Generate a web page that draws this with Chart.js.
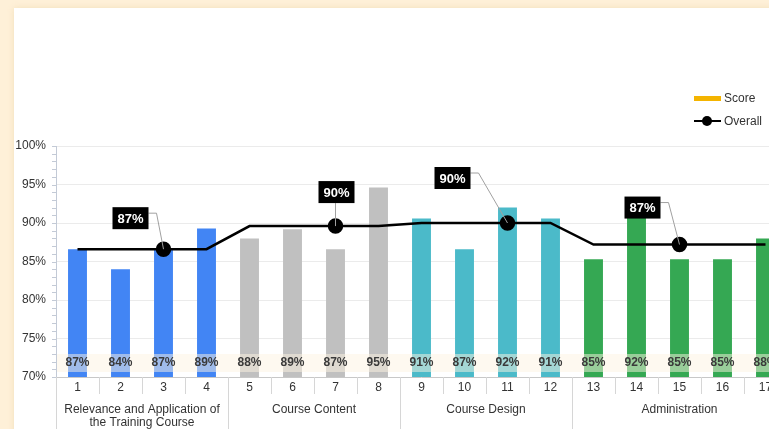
<!DOCTYPE html>
<html>
<head>
<meta charset="utf-8">
<script src="https://cdn.jsdelivr.net/npm/chart.js@4"></script>
<style>
  html, body { margin: 0; padding: 0; }
  body { background: #fef0d8; width: 769px; height: 429px; overflow: hidden; position: relative; font-family: "Liberation Sans", Arial, sans-serif; }
  #panel { position: absolute; left: 14px; top: 8px; width: 800px; height: 440px; background: #fff; box-shadow: 0 0 6px rgba(240,220,180,0.8); }
  #wrap { position: absolute; left: 0; top: 0; width: 800px; height: 429px; }
  #legend { position: absolute; left: 694px; top: 86px; font-size: 12px; color: #333; }
  .row { display: flex; align-items: center; height: 23px; }
  .sw { width: 27px; height: 14px; position: relative; margin-right: 3px; }
  .bar { position: absolute; left: 0; right: 0; top: 5px; height: 5px; background: #f4b400; }
  .ln { position: absolute; left: 0; right: 0; top: 6px; height: 2px; background: #000; }
  .dot { position: absolute; left: 8px; top: 2px; width: 10px; height: 10px; border-radius: 50%; background: #000; }
</style>
</head>
<body>
<div id="panel"></div>
<div id="wrap"><canvas id="chart" width="800" height="429"></canvas></div>
<div id="legend">
  <div class="row"><div class="sw"><div class="bar"></div></div>Score</div>
  <div class="row"><div class="sw"><div class="ln"></div><div class="dot"></div></div>Overall</div>
</div>
<script>
// categories and values
const categories = ['1','2','3','4','5','6','7','8','9','10','11','12','13','14','15','16','17'];
const scores = [86.6, 84.0, 86.6, 89.3, 88.0, 89.2, 86.6, 94.6, 90.6, 86.6, 92.0, 90.6, 85.3, 91.8, 85.3, 85.3, 88.0];
const overall = [86.6, 86.6, 86.6, 86.6, 89.6, 89.6, 89.6, 89.6, 90.0, 90.0, 90.0, 90.0, 87.2, 87.2, 87.2, 87.2, 87.2];
const groupNames = [['Relevance and Application of', 'the Training Course'], ['Course Content'], ['Course Design'], ['Administration']];
const groupSizes = [4, 4, 4, 5];
const calloutIndex = [2, 6, 10, 14];
const yTicks = [70, 75, 80, 85, 90, 95, 100];

const groupColors = ['#4285f4', '#c0c0c0', '#4bbac9', '#35a853'];
// callout box offsets from its marker (px)
const calloutOffsets = [[-33, -31], [1, -34], [-55, -45], [-37, -37]];

const barColors = [];
groupSizes.forEach((n, g) => { for (let i = 0; i < n; i++) barColors.push(groupColors[g]); });

const FONT = '"Liberation Sans", Arial, sans-serif';

const axisPlugin = {
  id: 'axisStuff',
  afterDatasetsDraw(chart) {
    const { ctx, chartArea: { left, right, top, bottom }, scales: { x, y } } = chart;
    ctx.save();

    // light band behind bottom value labels
    ctx.fillStyle = 'rgba(254,244,226,0.5)';
    ctx.fillRect(left + 1, bottom - 23, right - left, 18);

    // value labels at bar bases
    ctx.fillStyle = '#3a3a3a';
    ctx.font = 'bold 12px ' + FONT;
    ctx.textAlign = 'center';
    ctx.textBaseline = 'middle';
    scores.forEach((v, i) => {
      ctx.fillText(Math.round(v) + '%', x.getPixelForValue(i), bottom - 14);
    });

    // x axis line
    ctx.strokeStyle = '#c8c8c8';
    ctx.lineWidth = 1;
    ctx.beginPath();
    ctx.moveTo(left, bottom + 0.5);
    ctx.lineTo(right, bottom + 0.5);
    ctx.stroke();

    // category separators and numbers
    const step = x.getPixelForValue(1) - x.getPixelForValue(0);
    ctx.strokeStyle = '#d6d6d6';
    ctx.fillStyle = '#333';
    ctx.font = '12px ' + FONT;
    categories.forEach((c, i) => {
      const cx = x.getPixelForValue(i);
      ctx.fillText(c, cx, bottom + 11);
      const sx = Math.round(cx - step / 2) + 0.5;
      ctx.beginPath();
      ctx.moveTo(sx, bottom);
      ctx.lineTo(sx, bottom + 17);
      ctx.stroke();
    });

    // group separators and names
    let start = 0;
    groupSizes.forEach((n, g) => {
      const gx0 = x.getPixelForValue(start) - step / 2;
      const gx1 = x.getPixelForValue(start + n - 1) + step / 2;
      ctx.beginPath();
      ctx.moveTo(Math.round(gx0) + 0.5, bottom);
      ctx.lineTo(Math.round(gx0) + 0.5, bottom + 60);
      ctx.stroke();
      groupNames[g].forEach((line, k) => {
        ctx.fillText(line, (gx0 + gx1) / 2, bottom + 33 + k * 13);
      });
      start += n;
    });

    // minor ticks on y axis
    ctx.strokeStyle = '#c3cad6';
    for (let v = 70; v <= 100; v++) {
      const py = Math.round(y.getPixelForValue(v)) + 0.5;
      ctx.beginPath();
      ctx.moveTo(left - 4, py);
      ctx.lineTo(left, py);
      ctx.stroke();
    }

    // callouts for the overall line
    const meta = chart.getDatasetMeta(1);
    calloutIndex.forEach((idx, g) => {
      const pt = meta.data[idx];
      const [dx, dy] = calloutOffsets[g];
      const bw = 36, bh = 22;
      const bx = pt.x + dx - bw / 2, by = pt.y + dy - bh / 2;
      ctx.strokeStyle = '#a0a0a0';
      ctx.beginPath();
      if (Math.abs(dx) < 5) {
        ctx.moveTo(pt.x, by + bh);
        ctx.lineTo(pt.x, pt.y);
      } else {
        ctx.moveTo(bx + bw, by + 6);
        ctx.lineTo(bx + bw + 8, by + 6);
        ctx.lineTo(pt.x, pt.y);
      }
      ctx.stroke();
      ctx.fillStyle = '#000';
      ctx.fillRect(bx, by, bw, bh);
      ctx.fillStyle = '#fff';
      ctx.font = 'bold 13px ' + FONT;
      ctx.fillText(Math.round(overall[idx]) + '%', bx + bw / 2, by + bh / 2 + 1);
    });

    ctx.restore();
  }
};

new Chart(document.getElementById('chart'), {
  data: {
    labels: categories,
    datasets: [{
      type: 'bar',
      label: 'Score',
      data: scores,
      backgroundColor: barColors,
      categoryPercentage: 1,
      barPercentage: 0.44,
      order: 2
    }, {
      type: 'line',
      label: 'Overall',
      data: overall,
      borderColor: '#000',
      borderWidth: 2.5,
      backgroundColor: '#000',
      pointRadius: categories.map((c, i) => calloutIndex.includes(i) ? 6.5 : 0),
      pointBackgroundColor: '#000',
      pointBorderColor: '#000',
      tension: 0,
      order: 1
    }]
  },
  options: {
    responsive: false,
    animation: false,
    layout: { padding: { left: 0, top: 146, right: 13, bottom: 52 } },
    plugins: { legend: { display: false }, tooltip: { enabled: false } },
    scales: {
      x: { display: false, offset: true },
      y: {
        min: 70,
        max: 100,
        afterBuildTicks: (s) => { s.ticks = yTicks.map(v => ({ value: v })); },
        afterFit: (s) => { s.width = 56; },
        grid: { color: (c) => c.tick.value === 70 ? 'rgba(0,0,0,0)' : '#ebebeb', drawTicks: false },
        border: { color: '#c3cad6' },
        ticks: {
          padding: 10,
          color: '#333',
          font: { family: FONT, size: 12 },
          callback: (v) => v + '%'
        }
      }
    }
  },
  plugins: [axisPlugin]
});
</script>
</body>
</html>
